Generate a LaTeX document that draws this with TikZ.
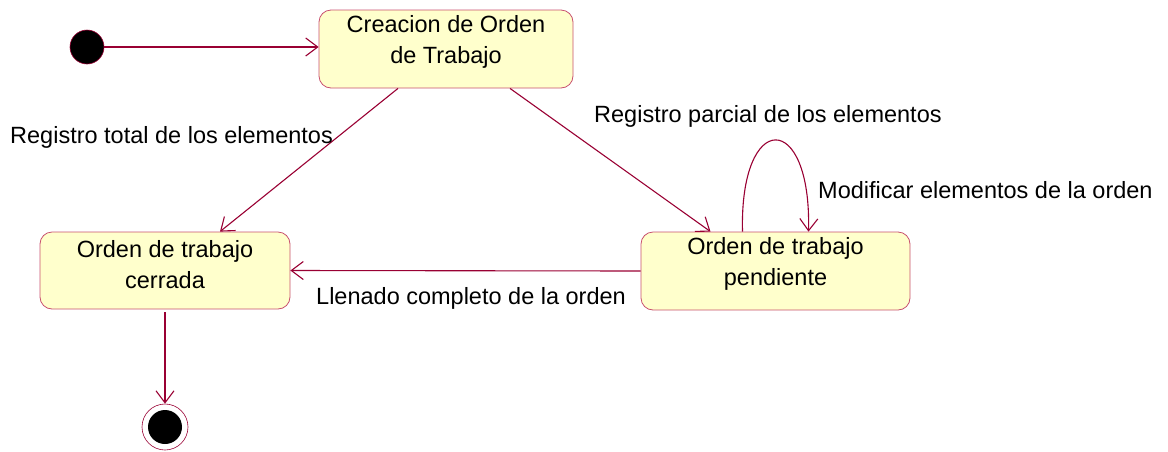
\documentclass[tikz,border=0pt]{standalone}
\usepackage{fontspec}
\setmainfont{Liberation Sans}
\usetikzlibrary{arrows.meta}
\definecolor{edgecol}{RGB}{153,0,51}
\definecolor{boxline}{RGB}{200,80,110}
\definecolor{boxfill}{RGB}{255,255,204}
\begin{document}
\begin{tikzpicture}[x=1pt,y=-1pt,
  statebox/.style={draw=boxline,fill=boxfill,rounded corners=12pt,line width=0.8pt,inner sep=0pt},
  stxt/.style={font=\fontsize{23.5}{31}\selectfont,align=center,inner sep=0pt},
  lbl/.style={font=\fontsize{23.5}{27}\selectfont,inner sep=0pt,anchor=west},
  trans/.style={draw=edgecol,line width=1.1pt,-{Straight Barb[length=12pt,width=18pt,line width=1.1pt]}}
]
\useasboundingbox (0,0) rectangle (1168,451);
% states
\node[statebox,minimum width=254pt,minimum height=78pt] (crea) at (446,49) {};
\node[stxt] (creat) at ([yshift=7pt]crea.center) {Creacion de Orden\\de Trabajo};
\node[statebox,minimum width=250pt,minimum height=77pt] (cerr) at (165,270.5) {};
\node[stxt] (cerrt) at ([yshift=6pt]cerr.center) {Orden de trabajo\\cerrada};
\node[statebox,minimum width=269pt,minimum height=78pt] (pend) at (775.5,271) {};
\node[stxt] (pendt) at ([yshift=7pt]pend.center) {Orden de trabajo\\pendiente};
% start / end
\node[circle,fill=black,draw=edgecol,line width=0.6pt,minimum size=34pt,inner sep=0pt] (ini) at (87,47) {};
\node[circle,draw=edgecol,fill=white,line width=0.6pt,minimum size=46pt,inner sep=0pt] (fin) at (165,427) {};
\node[circle,fill=black,minimum size=34pt,inner sep=0pt] (fini) at (fin.center) {};
% transitions
\draw[trans] (ini.east) -- (crea.west |- ini.east);
\draw[trans] ([xshift=-48pt]crea.south) -- ([xshift=55pt]cerr.north);
\draw[trans] ([xshift=64pt]crea.south) -- ([xshift=-65pt]pend.north);
\draw[trans] (pend.west) -- (cerr.east);
\draw[trans] ([xshift=-33pt]pend.north) .. controls ([xshift=-36pt,yshift=122pt]pend.north) and ([xshift=36pt,yshift=122pt]pend.north) .. ([xshift=33pt]pend.north);
\draw[trans,shorten <=3pt] (cerr.south) -- (fin.north);
% labels
\node[lbl] (l1) at (10,137) {Registro total de los elementos};
\node[lbl] (l2) at (594,116) {Registro parcial de los elementos};
\node[lbl] (l3) at (818,190) {Modificar elementos de la orden};
\node[lbl] (l4) at (316,298) {Llenado completo de la orden};
\end{tikzpicture}
\end{document}
